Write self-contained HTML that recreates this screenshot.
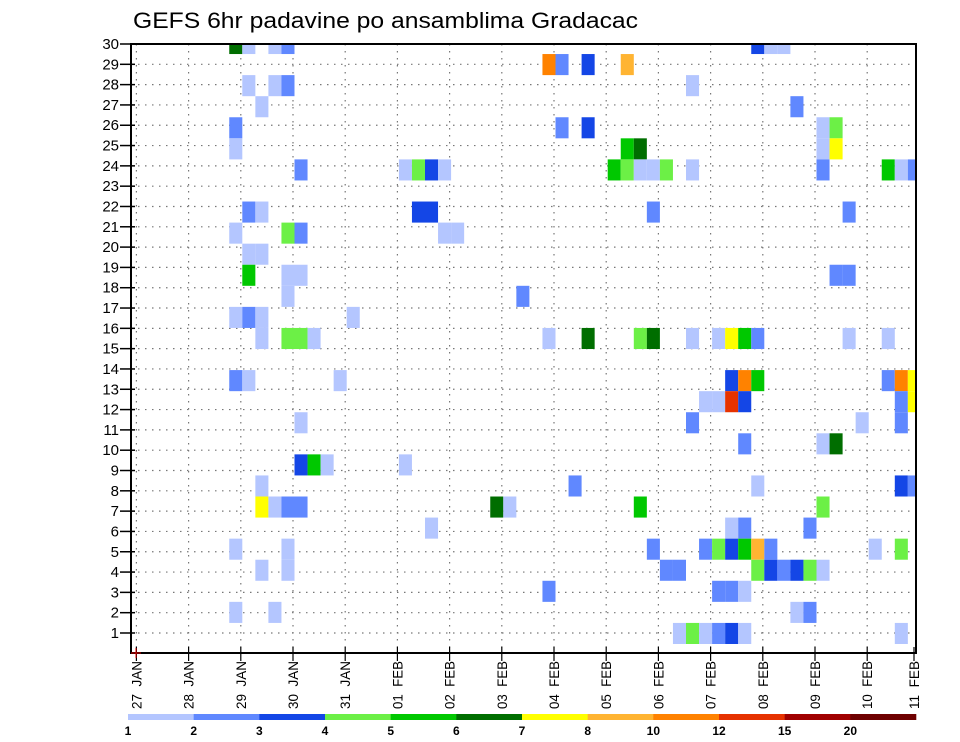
<!DOCTYPE html>
<html><head><meta charset="utf-8"><style>
html,body{margin:0;padding:0;background:#fff;}
svg{display:block;font-family:"Liberation Sans",sans-serif;}
</style></head><body>
<svg id="chart" width="960" height="742" viewBox="0 0 960 742" xmlns="http://www.w3.org/2000/svg">
<text x="133" y="28" font-size="22" textLength="505" lengthAdjust="spacingAndGlyphs" fill="#000">GEFS 6hr padavine po ansamblima Gradacac</text>
<g id="grid"></g>
<g id="cells"></g>
<g id="axes"></g>
<g id="cbar"></g>
</svg>
<script>
const dayLabels = ["27  JAN","28  JAN","29  JAN","30  JAN","31  JAN","01  FEB","02  FEB","03  FEB","04  FEB","05  FEB","06  FEB","07  FEB","08  FEB","09  FEB","10  FEB","11  FEB"];
const rowLabels = [1,2,3,4,5,6,7,8,9,10,11,12,13,14,15,16,17,18,19,20,21,22,23,24,25,26,27,28,29,30];
const levelLabels = ["1","2","3","4","5","6","7","8","10","12","15","20"];
const levelColors = ["#b4c6ff","#6088ff","#1446e6","#6cf046","#00c800","#006e00","#ffff00","#ffb432","#ff8200","#e63200","#a00000","#6e0000"];
// member index (1-29), 6-hr step index from 27 JAN 00Z, color-level index
const cellMember = [29,29,29,29,29,29,29, 28,28,28,28, 27,27,27,27, 26,26, 25,25,25,25,25, 24,24,24,24,24,
 23,23,23,23,23,23,23,23,23,23,23,23,23,23,23, 21,21,21,21,21,21, 20,20,20,20,20, 19,19, 18,18,18,18,18, 17,17, 16,16,16,16,
 15,15,15,15,15,15,15,15,15,15,15,15,15,15,15, 13,13,13,13,13,13,13,13,13, 12,12,12,12,12,12, 11,11,11,11, 10,10,10, 9,9,9,9,
 8,8,8,8,8, 7,7,7,7,7,7,7,7, 6,6,6,6, 5,5,5,5,5,5,5,5,5,5,5, 4,4,4,4,4,4,4,4,4,4, 3,3,3,3, 2,2,2,2, 1,1,1,1,1,1,1];
const cellStep = [8,9,11,12,48,49,50, 32,33,35,38, 9,11,12,43, 10,51, 8,33,35,53,54, 8,38,39,53,54,
 13,21,22,23,24,37,38,39,40,41,43,53,58,59,60, 9,10,22,23,40,55, 8,12,13,24,25, 9,10, 9,12,13,54,55, 12,30, 8,9,10,17,
 10,12,13,14,32,35,39,40,43,45,46,47,48,55,58, 8,9,16,46,47,48,58,59,60, 44,45,46,47,59,60, 13,43,56,59, 47,53,54, 13,14,15,21,
 10,34,48,59,60, 10,11,12,13,28,29,39,53, 23,46,47,52, 8,12,40,44,45,46,47,48,49,57,59, 10,12,41,42,48,49,50,51,52,53, 32,45,46,47, 8,11,51,52, 42,43,44,45,46,47,59];
const cellLevel = [5,0,0,1,2,0,0, 8,1,2,7, 0,0,1,0, 0,1, 1,1,2,0,3, 0,4,5,0,6,
 1,0,3,2,0,4,3,0,0,3,0,1,4,0,1, 1,0,2,2,1,1, 0,3,1,0,0, 0,0, 4,0,0,1,1, 0,1, 0,1,0,0,
 0,3,3,0,0,5,3,5,0,0,6,4,1,0,0, 1,0,0,2,8,4,1,8,6, 0,0,9,2,1,6, 0,1,0,1, 1,0,5, 2,4,0,0,
 0,1,0,2,1, 6,0,1,1,5,0,4,3, 0,0,1,1, 0,0,1,1,3,2,4,7,1,0,3, 0,0,1,1,3,2,1,2,3,0, 1,1,1,0, 0,0,0,1, 0,3,0,1,2,0,0];

const NS="http://www.w3.org/2000/svg";
const L=131,R=916,T=44,B=653;
const X0=137.9,S=13.05,H=21.07,YB=644;
function xStep(k){return X0+k*S;}
function xDay(d){return 136.4+d*52.2;}
function yRow(r){return T+(30-r)*20.31;}
function yMemTop(m){return YB-m*H;}
function mk(tag,attrs,parent){const e=document.createElementNS(NS,tag);for(const a in attrs)e.setAttribute(a,attrs[a]);parent.appendChild(e);return e;}

const grid=document.getElementById('grid');
rowLabels.forEach(r=>{
  const ln=mk('line',{x1:L,x2:R,y1:yRow(r),y2:yRow(r),stroke:'#777','stroke-width':1.2,'stroke-dasharray':'1.5,5.5'},grid);
  
  
});
dayLabels.forEach((d,i)=>{
  const x=xDay(i); if(x>R) return;
  const ln=mk('line',{x1:x,x2:x,y1:T,y2:B,stroke:'#777','stroke-width':1.2,'stroke-dasharray':'1.5,5.5'},grid);
  
  
});

const cells=document.getElementById('cells');
for(let i=0;i<cellMember.length;i++){
  let x=xStep(cellStep[i]-1), w=S;
  let y=yMemTop(cellMember[i]), h=H;
  if(y<T){h-=T-y;y=T;}
  if(x+w>R){w=R-x;}
  if(w<=0) continue;
  const r=mk('rect',{x:x.toFixed(2),y:y.toFixed(2),width:w.toFixed(2),height:h.toFixed(2),fill:levelColors[cellLevel[i]]},cells);
  
  
}

const axes=document.getElementById('axes');
mk('rect',{x:L,y:T,width:R-L,height:B-T,fill:'none',stroke:'#000','stroke-width':2},axes);
rowLabels.forEach(r=>{
  const y=yRow(r);
  mk('line',{x1:120,x2:135,y1:y,y2:y,stroke:'#000','stroke-width':1.5},axes);
  const t=mk('text',{x:119,y:y+5,'font-size':15,'text-anchor':'end',fill:'#000'},axes);
  t.textContent=r;
  
  
});
dayLabels.forEach((d,i)=>{
  let x=xDay(i); if(x>R) x=R-2;
  mk('line',{x1:x,x2:x,y1:B-6,y2:B+8,stroke:'#000','stroke-width':1.2},axes);
  const t=mk('text',{x:0,y:0,'font-size':14,'text-anchor':'end',fill:'#000','xml:space':'preserve',style:'white-space:pre',textLength:48,lengthAdjust:'spacingAndGlyphs',transform:`translate(${x+5},661) rotate(-90)`},axes);
  t.textContent=d;
  
  
});
mk('line',{x1:131,x2:141,y1:653,y2:653,stroke:'#d00','stroke-width':1},axes);
mk('line',{x1:136,x2:136,y1:648,y2:658,stroke:'#d00','stroke-width':1},axes);

const cbar=document.getElementById('cbar');
const cbL=128,cbW=(916-128)/levelColors.length;
levelColors.forEach((c,i)=>{
  const r=mk('rect',{x:cbL+i*cbW,y:714,width:cbW+0.3,height:6,fill:c},cbar);
  
  
});
levelLabels.forEach((l,i)=>{
  const t=mk('text',{x:cbL+i*cbW,y:735,'font-size':12,'font-weight':'bold','text-anchor':'middle',fill:'#000'},cbar);
  t.textContent=l;
  
  
});
</script>
</body></html>
